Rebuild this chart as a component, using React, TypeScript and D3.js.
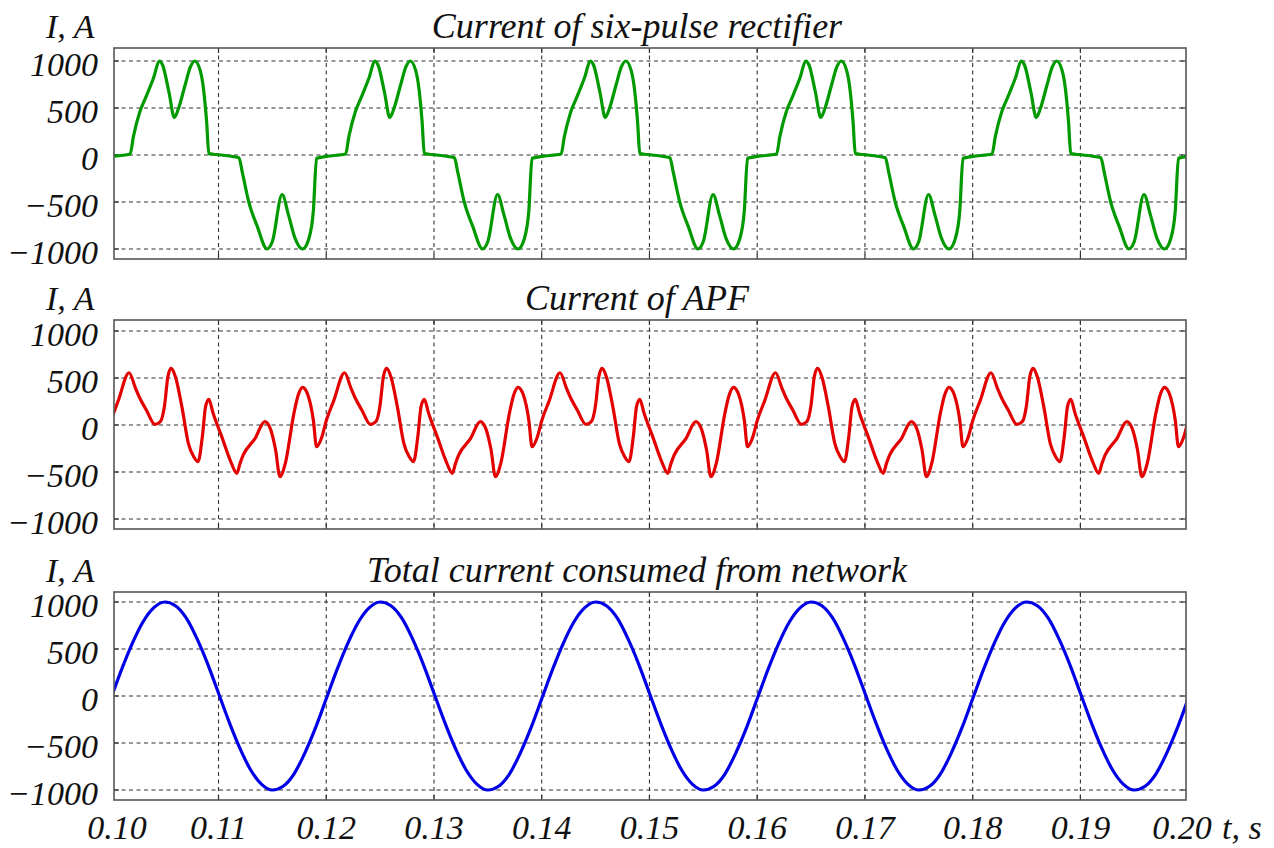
import React from "react";
import * as d3 from "d3";

// ---------- data ----------
// one 50 Hz period (0.02 s) repeated in the picture; phases are relative to each period start
const periodStarts = [0.1, 0.12, 0.14, 0.16, 0.18, 0.2];

const rectifierPhase = [0.0, 0.0018, 0.0021, 0.0027, 0.0032, 0.004, 0.0045, 0.0048, 0.0054, 0.0059, 0.0063, 0.0069, 0.0074, 0.0078, 0.0083, 0.0086, 0.0089, 0.0091, 0.0098, 0.0119, 0.0122, 0.0128, 0.0136, 0.0145, 0.015, 0.0159, 0.0165, 0.0171, 0.0178, 0.0184, 0.0188, 0.0191];
const rectifierCurrent = [-15, 10, 195, 460, 600, 830, 1000, 960, 670, 400, 500, 745, 940, 1000, 900, 710, 350, 15, 5, -30, -180, -495, -760, -1000, -920, -420, -640, -885, -1000, -885, -600, -35];

const apfPhase = [0.0, 0.0007, 0.0017, 0.0023, 0.0027, 0.0033, 0.0041, 0.0046, 0.005, 0.0053, 0.0056, 0.006, 0.0066, 0.0072, 0.0077, 0.0081, 0.0085, 0.0088, 0.0091, 0.0095, 0.0103, 0.0112, 0.0117, 0.012, 0.0123, 0.0134, 0.0143, 0.0148, 0.0153, 0.0157, 0.0162, 0.017, 0.0174, 0.0178, 0.0183, 0.0188, 0.0191, 0.0196];
const apfCurrent = [45, 260, 556, 390, 284, 160, 7, 35, 213, 514, 603, 514, 195, -195, -337, -390, -124, 195, 273, 124, -124, -408, -514, -408, -319, -142, 35, -35, -266, -550, -408, 124, 319, 401, 319, 53, -230, -124];

const totalPhase = [0.0, 0.001, 0.002, 0.003, 0.004, 0.005, 0.006, 0.007, 0.008, 0.009, 0.01, 0.011, 0.012, 0.013, 0.014, 0.015, 0.016, 0.017, 0.018, 0.019];
const totalCurrent = [-30, 280, 560, 790, 940, 1000, 960, 830, 610, 340, 30, -280, -560, -790, -940, -1000, -960, -830, -610, -340];

const xTicks = [0.1, 0.11, 0.12, 0.13, 0.14, 0.15, 0.16, 0.17, 0.18, 0.19, 0.2];
const yTicks = [-1000, -500, 0, 500, 1000];
const titles = ["Current of six-pulse rectifier", "Current of APF", "Total current consumed from network"];
const yLabel = "I, A";
const xLabel = "t, s";
const xDomain = [0.1003, 0.1998];

// ---------- layout ----------
const W = 1274;
const H = 848;
const LEFT = 114;
const RIGHT = 1186;
const FONT = "'Nimbus Roman', 'Liberation Serif', 'Times New Roman', serif";

type Pt = [number, number];

function buildSeries(phase: number[], values: number[]): Pt[] {
  const out: Pt[] = [];
  periodStarts.forEach((s) => {
    phase.forEach((p, i) => {
      const t = s + p;
      if (t <= 0.2001) out.push([t, values[i]]);
    });
  });
  return out;
}

const panels = [
  { top: 48, bottom: 259, zero: 155, color: "#009900", data: buildSeries(rectifierPhase, rectifierCurrent) },
  { top: 320, bottom: 529, zero: 425, color: "#e20000", data: buildSeries(apfPhase, apfCurrent) },
  { top: 592, bottom: 800, zero: 696, color: "#0000e6", data: buildSeries(totalPhase, totalCurrent) },
];

const fmtY = (v: number) => (v < 0 ? "\u2212" + Math.abs(v) : String(v));

export default function App() {
  const x = d3.scaleLinear().domain(xDomain).range([LEFT, RIGHT]);
  const gridX = xTicks.filter((t) => t > xDomain[0] && t < xDomain[1]);

  return (
    <svg width={W} height={H} style={{ position: "absolute", left: 0, top: 0, background: "#fff" }}>
      <defs>
        {panels.map((p, i) => (
          <clipPath id={`clip${i}`} key={i}>
            <rect x={LEFT} y={p.top} width={RIGHT - LEFT} height={p.bottom - p.top} />
          </clipPath>
        ))}
      </defs>
      {panels.map((p, i) => {
        const y = d3.scaleLinear().domain([-1000, 1000]).range([p.zero + 94, p.zero - 94]);
        const line = d3
          .line<Pt>()
          .x((d) => x(d[0]))
          .y((d) => y(d[1]))
          .curve(d3.curveMonotoneX);
        return (
          <g key={i}>
            {/* grid */}
            {yTicks.map((v) => (
              <line key={"h" + v} x1={LEFT} x2={RIGHT} y1={y(v)} y2={y(v)} stroke="#333" strokeWidth={1.1} strokeDasharray="4,3.5" />
            ))}
            {gridX.map((t) => (
              <line key={"v" + t} x1={x(t)} x2={x(t)} y1={p.top} y2={p.bottom} stroke="#333" strokeWidth={1.1} strokeDasharray="4,3.5" />
            ))}
            {/* inner ticks */}
            {gridX.map((t) => (
              <g key={"t" + t}>
                <line x1={x(t)} x2={x(t)} y1={p.top} y2={p.top + 5} stroke="#333" strokeWidth={1.2} />
                <line x1={x(t)} x2={x(t)} y1={p.bottom} y2={p.bottom - 5} stroke="#333" strokeWidth={1.2} />
              </g>
            ))}
            {yTicks.map((v) => (
              <g key={"yt" + v}>
                <line x1={LEFT} x2={LEFT + 5} y1={y(v)} y2={y(v)} stroke="#333" strokeWidth={1.2} />
                <line x1={RIGHT} x2={RIGHT - 5} y1={y(v)} y2={y(v)} stroke="#333" strokeWidth={1.2} />
              </g>
            ))}
            {/* data */}
            <path d={line(p.data) || ""} fill="none" stroke={p.color} strokeWidth={3.2} strokeLinejoin="round" clipPath={`url(#clip${i})`} />
            {/* frame */}
            <rect x={LEFT} y={p.top} width={RIGHT - LEFT} height={p.bottom - p.top} fill="none" stroke="#555" strokeWidth={1.6} />
            {/* y tick labels */}
            {yTicks.map((v) => (
              <text key={"yl" + v} x={98} y={y(v) + 15} textAnchor="end" fontFamily={FONT} fontStyle="italic" fontSize={34} fill="#111">
                {fmtY(v)}
              </text>
            ))}
            {/* axis label and title */}
            <text x={46} y={p.top - 10} fontFamily={FONT} fontStyle="italic" fontSize={34} fill="#111">
              {yLabel}
            </text>
            <text x={637} y={p.top - 10} textAnchor="middle" fontFamily={FONT} fontStyle="italic" fontSize={36} fill="#111">
              {titles[i]}
            </text>
          </g>
        );
      })}
      {/* x tick labels */}
      {xTicks.map((t) => {
        const px = Math.max(LEFT + 3, Math.min(RIGHT - 4, x(t)));
        return (
          <text key={"xl" + t} x={px} y={839} textAnchor="middle" fontFamily={FONT} fontStyle="italic" fontSize={34} fill="#111">
            {t.toFixed(2)}
          </text>
        );
      })}
      <text x={1222} y={839} fontFamily={FONT} fontStyle="italic" fontSize={34} fill="#111">
        {xLabel}
      </text>
    </svg>
  );
}
